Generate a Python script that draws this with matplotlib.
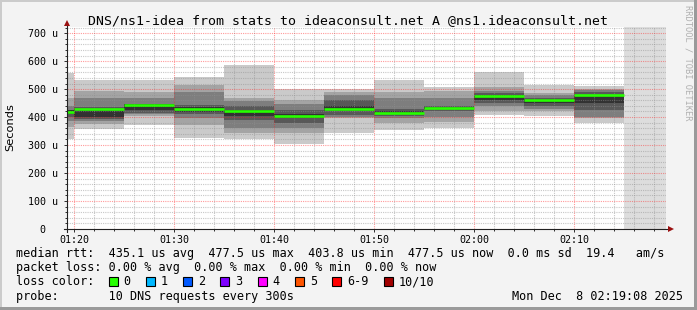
import matplotlib
matplotlib.use('Agg')
import matplotlib.pyplot as plt
from matplotlib.patches import Rectangle

# 5 minute steps, minutes relative to 01:20
step_start = [-5, 0, 5, 10, 15, 20, 25, 30, 35, 40, 45, 50]
step_len = 5

# sorted rtt of the 10 pings per step, in microseconds
ping01 = [320, 358, 372, 327, 321, 304, 342, 355, 360, 407, 404, 380]
ping02 = [363, 377, 405, 370, 342, 342, 395, 380, 383, 420, 420, 395]
ping03 = [387, 385, 410, 395, 362, 362, 400, 398, 400, 440, 430, 400]
ping04 = [401, 392, 414, 410, 390, 380, 407, 405, 420, 450, 440, 425]
ping05 = [410, 400, 425, 418, 405, 395, 420, 410, 428, 460, 450, 450]
ping06 = [425, 430, 445, 435, 425, 410, 440, 420, 437, 478, 465, 480]
ping07 = [427, 437, 448, 443, 440, 425, 461, 430, 440, 485, 470, 490]
ping08 = [439, 470, 470, 489, 458, 446, 480, 470, 470, 495, 480, 497]
ping09 = [470, 494, 489, 515, 468, 460, 490, 490, 495, 508, 485, 502]
ping10 = [556, 532, 531, 544, 586, 502, 502, 532, 506, 562, 514, 511]
median = [419, 430, 442, 430, 423, 404, 430, 415, 433, 475, 462, 477.5]

xtick_min = [0, 10, 20, 30, 40, 50]
xtick_labels = ['01:20', '01:30', '01:40', '01:50', '02:00', '02:10']
ytick_vals = [0, 100, 200, 300, 400, 500, 600, 700]
ytick_labels = ['0  ', '100 u', '200 u', '300 u', '400 u', '500 u', '600 u', '700 u']

loss_names = ['0', '1', '2', '3', '4', '5', '6-9', '10/10']
loss_colors = ['#26ff00', '#00b8ff', '#0059ff', '#7e00ff', '#ff00ff', '#ff5500', '#ff0000', '#a10000']

title = 'DNS/ns1-idea from stats to ideaconsult.net A @ns1.ideaconsult.net'
row1 = 'median rtt:  435.1 us avg  477.5 us max  403.8 us min  477.5 us now  0.0 ms sd  19.4   am/s'
row2 = 'packet loss: 0.00 % avg  0.00 % max  0.00 % min  0.00 % now'
row4 = 'probe:       10 DNS requests every 300s'
stamp = 'Mon Dec  8 02:19:08 2025'

W, H = 697, 310
MONO = 'DejaVu Sans Mono'

fig = plt.figure(figsize=(W / 100, H / 100), dpi=100, facecolor='#f3f3f3')


def fx(x):
    return x / W


def fy(y):
    return 1 - y / H


def px_rect(x, y, w, h, color, **kw):
    fig.add_artist(Rectangle((fx(x), fy(y + h)), w / W, h / H,
                             transform=fig.transFigure, color=color, lw=0, **kw))


# frame
px_rect(0, 0, W, 2, '#cbcbcb')
px_rect(0, 0, 2, H, '#cbcbcb')
px_rect(0, H - 3, W, 3, '#9a9a9a')
px_rect(W - 3, 0, 3, H, '#9a9a9a')

ax = fig.add_axes([fx(67), fy(229), 599 / W, 202 / H])
ax.set_facecolor('white')
ax.set_xlim(-0.7, 59.2)
ax.set_ylim(0, 722)

# smoke
pings = [ping01, ping02, ping03, ping04, ping05, ping06, ping07, ping08, ping09, ping10]
edges = step_start + [step_start[-1] + step_len]
greys = ['#cacaca', '#a4a4a4', '#7e7e7e', '#585858', '#323232']
for j in range(5):
    lo = pings[j]
    hi = pings[9 - j]
    ax.fill_between(edges, lo + lo[-1:], hi + hi[-1:], step='post',
                    color=greys[j], lw=0, zorder=1)

# no data yet
ax.axvspan(edges[-1], ax.get_xlim()[1], color='#dddddd', lw=0, zorder=0.9)

# median
ends = [s + step_len for s in step_start]
ax.hlines(median, step_start, ends, color='#26ff00', lw=1.9, zorder=3)

# grid
ax.set_xticks(xtick_min)
ax.set_xticklabels(xtick_labels)
ax.set_xticks(range(0, 60, 2), minor=True)
ax.set_yticks(ytick_vals)
ax.set_yticklabels(ytick_labels)
ax.set_yticks(range(0, 722, 20), minor=True)
ax.set_axisbelow(False)
ax.grid(which='minor', color='#909090', alpha=0.5, lw=0.8, linestyle=(0, (1, 1)))
ax.grid(which='major', color='#ff2020', alpha=0.45, lw=0.8, linestyle=(0, (1, 1)))
ax.tick_params(which='both', direction='out', color='#333333', width=0.72)
ax.tick_params(which='major', length=2.5)
ax.tick_params(which='minor', length=1.5)
ax.tick_params(axis='x', which='major', pad=1.5, labelsize=7.2)
ax.tick_params(axis='y', which='major', pad=4, labelsize=7.2)
for lab in ax.get_xticklabels() + ax.get_yticklabels():
    lab.set_family(MONO)

for s in ax.spines.values():
    s.set_visible(False)

# axes with arrows
ax.plot([0, 0], [-3 / 202, 1 + 4 / 202], transform=ax.transAxes, color='#222222',
        lw=0.8, clip_on=False, zorder=4)
ax.plot([-3 / 599, 1 + 4 / 599], [0, 0], transform=ax.transAxes, color='#222222',
        lw=0.8, clip_on=False, zorder=4)
ax.plot([0], [1 + 4.5 / 202], marker='^', ms=4.2, color='#9a1010', mew=0,
        transform=ax.transAxes, clip_on=False, zorder=5)
ax.plot([1 + 5 / 599], [0], marker='>', ms=4.2, color='#9a1010', mew=0,
        transform=ax.transAxes, clip_on=False, zorder=5)

# texts
fig.text(fx(347.5), fy(24), title, ha='center', va='baseline', family=MONO, size=9.55)
fig.text(fx(10), fy(127.5), 'Seconds', rotation=90, ha='center', va='center',
         family='DejaVu Sans', size=8.2)
fig.text(fx(688), fy(62.5), 'RRDTOOL / TOBI OETIKER', rotation=270, ha='center',
         va='center', family=MONO, size=6.3, color='#b0b0b0')

fs = 8.5
fig.text(fx(16), fy(257), row1, family=MONO, size=fs, va='baseline')
fig.text(fx(16), fy(271.2), row2, family=MONO, size=fs, va='baseline')
fig.text(fx(16), fy(285.4), 'loss color:', family=MONO, size=fs, va='baseline')
fig.text(fx(16), fy(299.6), row4, family=MONO, size=fs, va='baseline')
fig.text(fx(512.5), fy(299.6), stamp, family=MONO, size=fs, va='baseline')

x = 108.5
for name, col in zip(loss_names, loss_colors):
    fig.add_artist(Rectangle((fx(x), fy(286)), 9 / W, 9 / H, transform=fig.transFigure,
                             facecolor=col, edgecolor='black', lw=0.8))
    fig.text(fx(x + 14.8), fy(285.4), name, family=MONO, size=fs, va='baseline')
    x += 37.3 + 7.1 * (len(name) - 1)

fig.savefig('out.png', dpi=100, facecolor=fig.get_facecolor())
